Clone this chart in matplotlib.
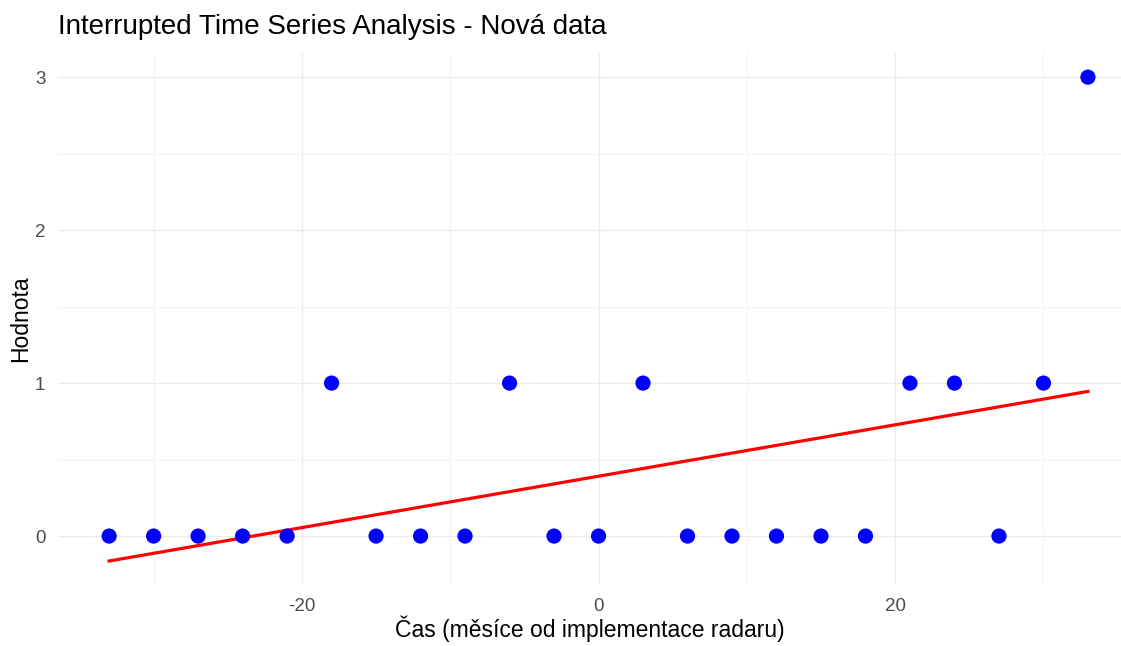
import numpy as np
import matplotlib
matplotlib.use("Agg")
import matplotlib.pyplot as plt
from matplotlib.ticker import MultipleLocator

# Data
cas = [-33, -30, -27, -24, -21, -18, -15, -12, -9, -6, -3, 0,
       3, 6, 9, 12, 15, 18, 21, 24, 27, 30, 33]
hodnota = [0, 0, 0, 0, 0, 1, 0, 0, 0, 1, 0, 0,
           1, 0, 0, 0, 0, 0, 1, 1, 0, 1, 3]

plt.rcParams['font.family'] = ['Liberation Sans', 'DejaVu Sans']
plt.rcParams['axes.unicode_minus'] = False

fig = plt.figure(figsize=(11.21, 6.46), dpi=100)
ax = fig.add_axes([0.0517, 0.0944, 0.9483, 0.8236])

# linear trend (like geom_smooth(method="lm", se=FALSE))
x = np.array(cas, dtype=float)
y = np.array(hodnota, dtype=float)
k, q = np.polyfit(x, y, 1)
xs = np.array([x.min(), x.max()])
ax.plot(xs, k * xs + q, color='#FF0000', lw=2.3, zorder=2)

ax.scatter(x, y, s=120, color='#0000FF', edgecolors='none', zorder=3)

ax.set_xlim(-36.45, 35.23)
ax.set_ylim(-0.32, 3.158)

ax.xaxis.set_major_locator(MultipleLocator(20))
ax.xaxis.set_minor_locator(MultipleLocator(10))
ax.yaxis.set_major_locator(MultipleLocator(1))
ax.yaxis.set_minor_locator(MultipleLocator(0.5))

ax.grid(which='major', color='#EBEBEB', lw=0.9)
ax.grid(which='minor', color='#F3F3F3', lw=0.8)
ax.set_axisbelow(True)
for s in ax.spines.values():
    s.set_visible(False)
ax.tick_params(which='both', length=0)
ax.tick_params(axis='both', labelsize=13.5, labelcolor='#4D4D4D')
ax.tick_params(axis='x', pad=9.5)
ax.tick_params(axis='y', pad=9)

ax.set_xlabel('Čas (měsíce od implementace radaru)', fontsize=16.5, labelpad=0)
ax.set_ylabel('Hodnota', fontsize=16.5, labelpad=2)
ax.set_title('Interrupted Time Series Analysis - Nová data', fontsize=20,
             loc='left', pad=14)

fig.savefig('out.png', dpi=100)
